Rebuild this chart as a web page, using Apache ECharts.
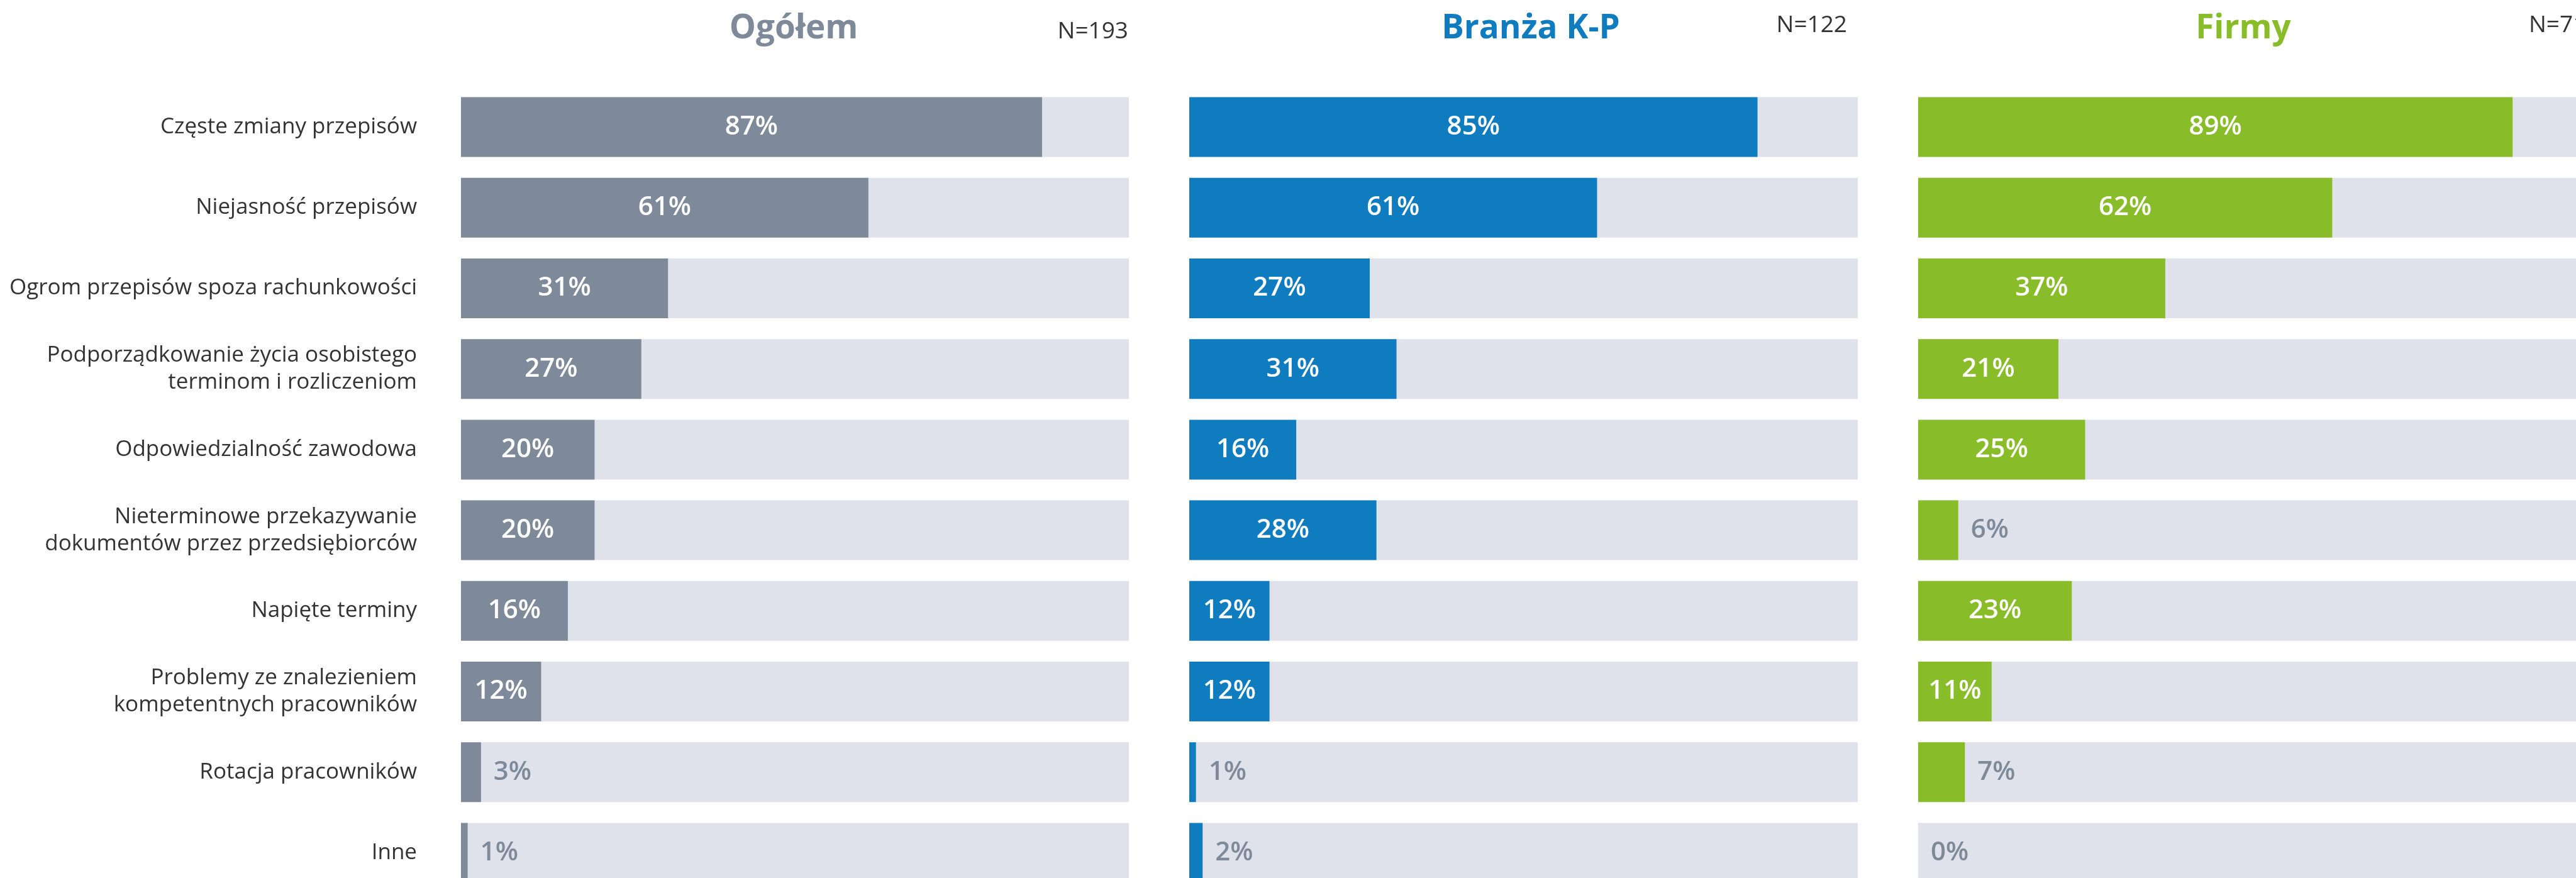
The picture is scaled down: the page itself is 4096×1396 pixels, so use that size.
<!DOCTYPE html>
<html>
<head>
<meta charset="utf-8">
<title>Utrudnienia w pracy</title>
<script src="https://cdn.jsdelivr.net/npm/echarts@6/dist/echarts.min.js"></script>
<style>
    html, body {margin: 0; padding: 0; background: #fff;}
    #main {width: 4096px; height: 1396px;}
</style>
</head>
<body>
<div id="main"></div>
<script>
var kategorie = [
    'Częste zmiany przepisów',
    'Niejasność przepisów',
    'Ogrom przepisów spoza rachunkowości',
    'Podporządkowanie życia osobistego\nterminom i rozliczeniom',
    'Odpowiedzialność zawodowa',
    'Nieterminowe przekazywanie\ndokumentów przez przedsiębiorców',
    'Napięte terminy',
    'Problemy ze znalezieniem\nkompetentnych pracowników',
    'Rotacja pracowników',
    'Inne'
];
var ogolem = [87, 61, 31, 27, 20, 20, 16, 12, 3, 1];
var branza = [85, 61, 27, 31, 16, 28, 12, 12, 1, 2];
var firmy  = [89, 62, 37, 21, 25, 6, 23, 11, 7, 0];

var tytuly = ['Ogółem', 'Branża K-P', 'Firmy'];
var liczebnosc = ['N=193', 'N=122', 'N=71'];
var kolory = ['#7e8a99', '#107cc0', '#88bc28'];

var font = '"Open Sans", "Noto Sans", sans-serif';

// uklad paneli (px)
var panele = [
    {left: 733, width: 1062, tx: 1262, nx: 1794, ny: 50, nAlign: 'right'},
    {left: 1891, width: 1063, tx: 2434, nx: 2937, ny: 40, nAlign: 'right'},
    {left: 3050, width: 1062, tx: 3567, nx: 4021, ny: 40, nAlign: 'left'}
];

var myChart = echarts.init(document.getElementById('main'));

// etykieta w srodku slupka / obok krotkiego slupka
var etykietaWew = {
    show: true, position: 'inside', color: '#fff',
    fontFamily: font, fontWeight: 600, fontSize: 42,
    formatter: '{c}%'
};
var etykietaZew = {
    show: true, position: 'right', distance: 20, color: '#7e8a99',
    fontFamily: font, fontWeight: 600, fontSize: 42,
    formatter: '{c}%'
};

var grids = [], xAxes = [], yAxes = [], series = [], graphics = [];
var dane = [ogolem, branza, firmy];

for (var i = 0; i < 3; i++) {
    var p = panele[i];
    grids.push({
        left: p.left, width: p.width, top: 138, height: 1282,
        outerBoundsMode: 'none', containLabel: false
    });
    xAxes.push({gridIndex: i, type: 'value', min: 0, max: 100, show: false});
    yAxes.push({
        gridIndex: i,
        type: 'category',
        data: kategorie,
        inverse: true,
        axisLine: {show: false},
        axisTick: {show: false},
        splitLine: {show: false},
        axisLabel: {
            show: i === 0,
            margin: 70,
            color: '#333',
            fontFamily: font,
            fontSize: 35,
            lineHeight: 43
        }
    });
    series.push({
        name: tytuly[i],
        type: 'bar',
        xAxisIndex: i,
        yAxisIndex: i,
        barWidth: 95,
        showBackground: true,
        backgroundStyle: {color: '#dfe2ea'},
        itemStyle: {color: kolory[i]},
        data: dane[i].map(function (v) {
            return {value: v, label: v < 10 ? etykietaZew : etykietaWew};
        })
    });
    graphics.push({
        type: 'text',
        x: p.tx, y: 46,
        style: {
            text: tytuly[i], fill: kolory[i],
            font: '700 53px ' + font,
            textAlign: 'center', textVerticalAlign: 'middle'
        }
    });
    graphics.push({
        type: 'text',
        x: p.nx, y: p.ny,
        style: {
            text: liczebnosc[i], fill: '#333',
            font: '400 37px ' + font,
            textAlign: p.nAlign, textVerticalAlign: 'middle'
        }
    });
}

var option = {
    animation: false,
    backgroundColor: '#fff',
    grid: grids,
    xAxis: xAxes,
    yAxis: yAxes,
    series: series,
    graphic: graphics
};

myChart.setOption(option);
</script>
</body>
</html>
